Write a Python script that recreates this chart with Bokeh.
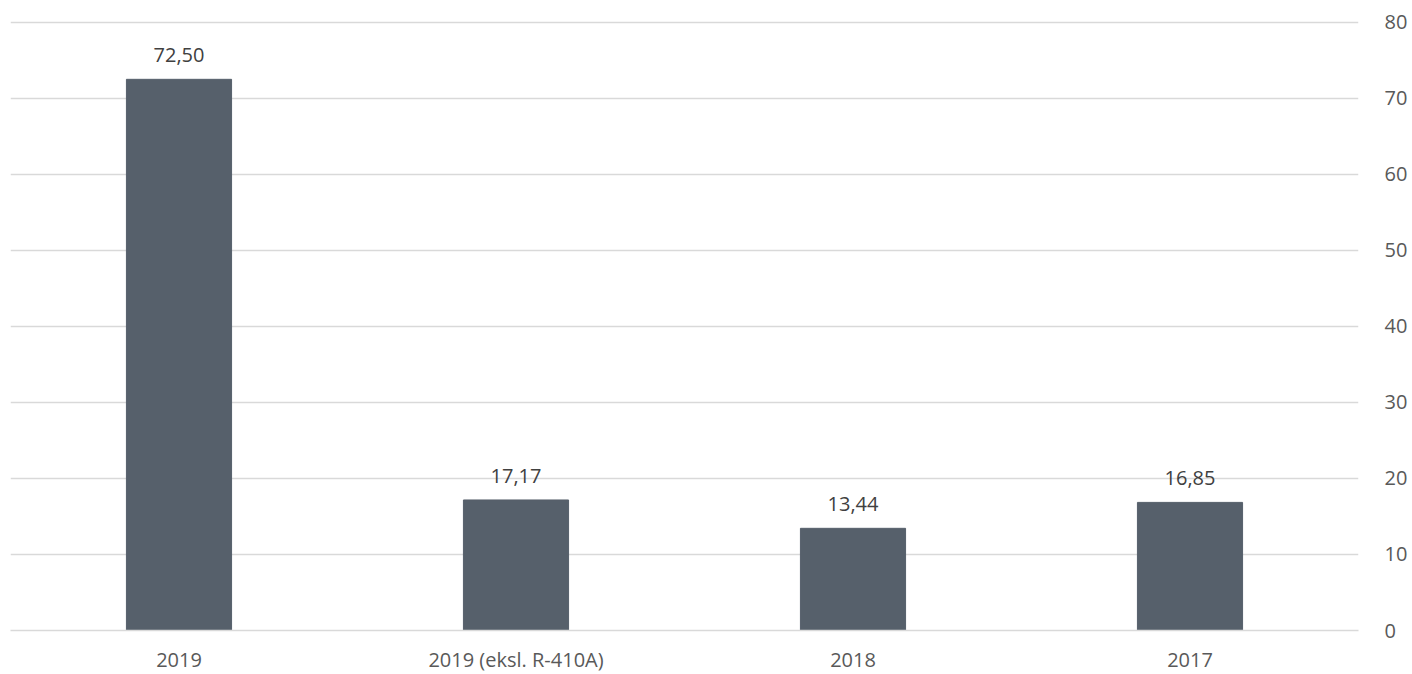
from bokeh.plotting import figure
from bokeh.models import ColumnDataSource, FixedTicker, Range1d, LabelSet
from bokeh.core.properties import value
from bokeh.embed import file_html
from bokeh.resources import INLINE

categories = ["2019", "2019 (eksl. R-410A)", "2018", "2017"]
values = [72.50, 17.17, 13.44, 16.85]
value_labels = ["72,50", "17,17", "13,44", "16,85"]
y_ticks = [0, 10, 20, 30, 40, 50, 60, 70, 80]

FONT = "Open Sans"
TXT = "#595959"
GRID = "#d9d9d9"
FS = "20px"

src = ColumnDataSource(dict(cat=categories, val=values, lab=value_labels))

p = figure(x_range=categories, y_range=Range1d(0, 80.5),
           frame_width=1348, frame_height=612,
           output_backend="svg", toolbar_location=None, y_axis_location="right",
           min_border_left=10, min_border_top=18, min_border_bottom=0, min_border_right=0)
p.outline_line_color = None
p.vbar(x="cat", top="val", width=0.312, source=src, color="#56606b")

labels = LabelSet(x="cat", y="val", text="lab", source=src, text_align="center",
                  text_baseline="bottom", y_offset=17, text_font=value(FONT),
                  text_font_size=FS, text_color="#404040")
p.add_layout(labels)

p.xgrid.grid_line_color = None
p.ygrid.grid_line_color = GRID
p.ygrid.grid_line_width = 1.3
p.yaxis.ticker = FixedTicker(ticks=y_ticks)
p.yaxis.axis_line_color = None
p.yaxis.major_tick_line_color = None
p.yaxis.minor_tick_line_color = None
p.yaxis.major_label_text_font = FONT
p.yaxis.major_label_text_font_size = FS
p.yaxis.major_label_text_color = TXT
p.yaxis.major_label_standoff = 20

p.xaxis.axis_line_color = GRID
p.xaxis.axis_line_width = 1.3
p.xaxis.major_tick_line_color = None
p.xaxis.minor_tick_line_color = None
p.xaxis.major_label_text_font = FONT
p.xaxis.major_label_text_font_size = FS
p.xaxis.major_label_text_color = TXT
p.xaxis.major_label_standoff = 9
p.x_range.range_padding = 0

open("out.html", "w").write(file_html(p, INLINE))
